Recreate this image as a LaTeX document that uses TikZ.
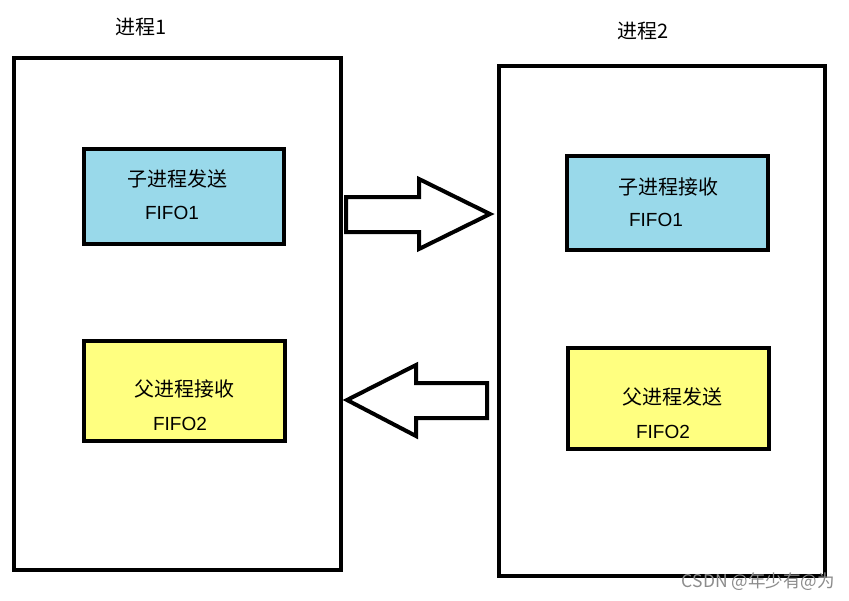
\documentclass[tikz,border=0pt]{standalone}
\usepackage{fontspec}
\setmainfont{Liberation Sans}
\newfontfamily\cjk{Noto Sans CJK SC}
\begin{document}
\begin{tikzpicture}[x=1pt,y=-1pt,
  bigbox/.style={draw=black,line width=4pt,fill=white},
  bluebox/.style={draw=black,line width=4pt,fill=myblue},
  yellowbox/.style={draw=black,line width=4pt,fill=myyellow},
  arrowshape/.style={draw=black,line width=4pt,fill=white,line join=miter},
  zh/.style={font=\cjk\fontsize{20}{22}\selectfont,inner sep=0pt},
  lat/.style={font=\fontsize{19}{22}\selectfont,inner sep=0pt}]
\definecolor{myblue}{RGB}{153,217,234}
\definecolor{myyellow}{RGB}{255,255,128}
\useasboundingbox[fill=white] (0,0) rectangle (849,600);
% big boxes
\draw[bigbox] (14,58) rectangle (341,570);
\draw[bigbox] (499,66) rectangle (825,576);
% inner boxes
\draw[bluebox] (84,149) rectangle (284,244);
\draw[bluebox] (567,156) rectangle (768,250);
\draw[yellowbox] (84,341) rectangle (285,441);
\draw[yellowbox] (568,348) rectangle (769,449);
% arrows
\draw[arrowshape] (346,197) -- (419,197) -- (419,179) -- (490,214) -- (419,249) -- (419,232) -- (346,232) -- cycle;
\draw[arrowshape] (487,383) -- (416,383) -- (416,365) -- (347,400) -- (416,436) -- (416,418) -- (487,418) -- cycle;
% titles
\node[zh] (t1) at (141,27) {进程1};
\node[zh] (t2) at (643,31) {进程2};
% texts
\node[zh] (a1) at (177,179) {子进程发送};
\node[lat] (a2) at (172,213) {FIFO1};
\node[zh] (b1) at (668,187) {子进程接收};
\node[lat] (b2) at (656,220) {FIFO1};
\node[zh] (c1) at (184,389) {父进程接收};
\node[lat] (c2) at (180,424) {FIFO2};
\node[zh] (d1) at (672,397) {父进程发送};
\node[lat] (d2) at (663,432) {FIFO2};
% watermark
\node[font=\cjk\fontsize{17.5}{19}\selectfont,text=black!45,inner sep=0pt,anchor=east] (wm) at (835,582) {CSDN @年少有@为};
\end{tikzpicture}
\end{document}
